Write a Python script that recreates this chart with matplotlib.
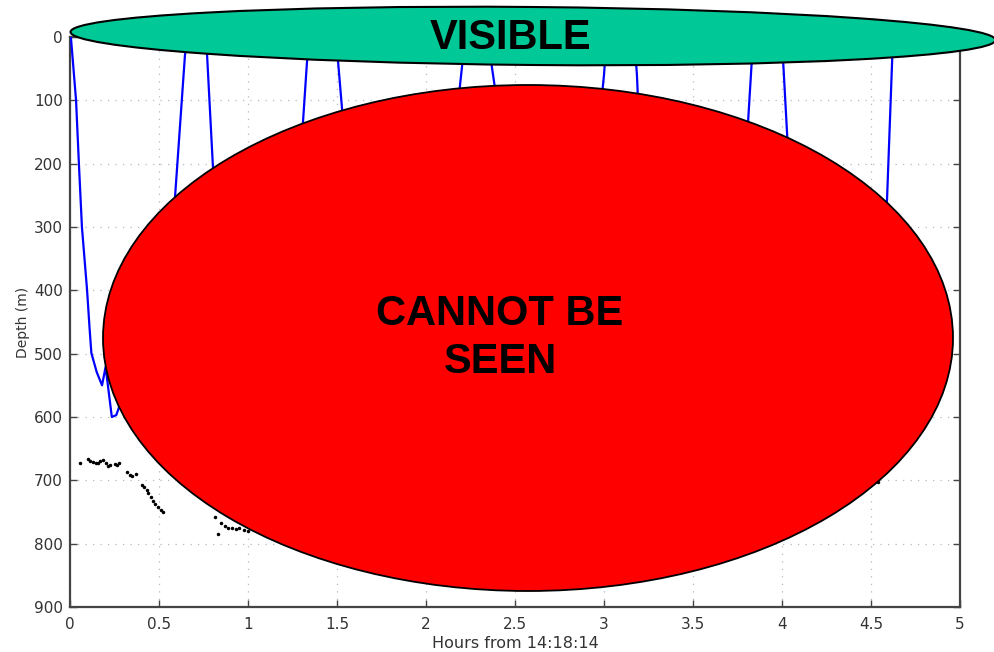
import matplotlib
matplotlib.use("Agg")
import matplotlib.pyplot as plt
from matplotlib.patches import Ellipse
from matplotlib.transforms import Affine2D
from matplotlib.ticker import FuncFormatter

# Dive profile: hours since start vs depth (m)
dive_hours = [0.005, 0.034, 0.05, 0.067, 0.096, 0.11, 0.12, 0.15, 0.18, 0.20, 0.235, 0.26,
              0.30, 0.35, 0.40, 0.45, 0.50, 0.54, 0.59, 0.646, 0.665, 0.75, 0.77, 0.803,
              0.85, 0.90, 0.95, 1.00, 1.05, 1.10, 1.15, 1.20, 1.25, 1.309, 1.331, 1.345,
              1.49, 1.506, 1.528, 1.58, 1.64, 1.70, 1.78, 1.86, 1.94, 2.02, 2.08, 2.14,
              2.19, 2.205, 2.22, 2.355, 2.37, 2.385, 2.45, 2.52, 2.60, 2.68, 2.76, 2.84,
              2.90, 2.95, 2.99, 3.00, 3.015, 3.17, 3.185, 3.19, 3.26, 3.33, 3.42, 3.50,
              3.58, 3.66, 3.72, 3.78, 3.81, 3.83, 3.845, 3.99, 4.006, 4.03, 4.08, 4.14,
              4.22, 4.30, 4.38, 4.46, 4.52, 4.59, 4.62, 4.63, 4.66]
dive_depth = [0, 100, 200, 300, 400, 460, 499, 529, 550, 521, 600, 597,
              565, 600, 615, 635, 590, 450, 253, 28, 0, 0, 28, 205,
              430, 580, 640, 690, 700, 660, 680, 560, 380, 134, 41, 0,
              0, 39, 112, 350, 560, 680, 720, 700, 740, 690, 480, 260,
              79, 40, 0, 0, 47, 76, 330, 590, 720, 760, 730, 700,
              520, 300, 88, 60, 0, 0, 60, 92, 380, 600, 700, 740,
              710, 690, 520, 300, 131, 39, 0, 0, 36, 160, 380, 540,
              610, 590, 620, 560, 420, 257, 28, 0, 0]

# Scattering layer detections
layer_hours = [0.056, 0.10, 0.115, 0.13, 0.145, 0.16, 0.17, 0.185, 0.20, 0.215, 0.225,
               0.255, 0.265, 0.275, 0.32, 0.335, 0.35, 0.37, 0.405, 0.415, 0.43, 0.44,
               0.455, 0.465, 0.48, 0.495, 0.51, 0.525, 0.815, 0.83, 0.85, 0.87, 0.89,
               0.91, 0.93, 0.95, 0.975, 1.0, 1.3, 1.7, 2.2, 2.7, 3.2, 3.7, 4.1, 4.54]
layer_depth = [672, 667, 669, 671, 673, 672, 670, 668, 672, 678, 675,
               674, 676, 672, 687, 691, 693, 690, 707, 711, 716, 720,
               727, 732, 738, 742, 747, 750, 758, 784, 768, 772, 775,
               776, 777, 776, 778, 780, 795, 805, 812, 815, 805, 780, 745, 703]

x_ticks = [0, 0.5, 1, 1.5, 2, 2.5, 3, 3.5, 4, 4.5, 5]
y_ticks = [0, 100, 200, 300, 400, 500, 600, 700, 800, 900]

W, H = 995, 652
plt.rcParams['font.family'] = ['DejaVu Sans']
fig = plt.figure(figsize=(W / 100, H / 100), dpi=100)
ax = fig.add_axes([70 / W, 1 - 607 / H, 890 / W, 570 / H])

ax.plot(dive_hours, dive_depth, color='#0000ff', lw=1.6, zorder=3)
ax.plot(layer_hours, layer_depth, ls='none', marker='.', ms=3, color='black', zorder=3)

ax.set_xlim(0, 5)
ax.set_ylim(900, 0)
ax.set_xticks(x_ticks)
ax.set_yticks(y_ticks)
ax.xaxis.set_major_formatter(FuncFormatter(lambda v, p: f"{v:g}"))
ax.grid(True, color='#b8b8b8', linestyle=(0, (1, 5)), linewidth=0.9)
ax.tick_params(direction='in', length=5, width=1, top=True, right=True,
               labelsize=11, labelcolor='#333333', color='#444444')
ax.tick_params(axis='y', pad=5)
ax.tick_params(axis='x', pad=7)
for sp in ax.spines.values():
    sp.set_color('#444444')
    sp.set_linewidth(1.6)
ax.set_xlabel('Hours from 14:18:14', fontsize=11.5, color='#333333', labelpad=3)
ax.set_ylabel('Depth (m)', fontsize=10, color='#333333', labelpad=3)

# overlay shapes placed in output pixel units (origin bottom-left)
px = Affine2D().scale(1 / W, 1 / H) + fig.transFigure

def py(y):
    return H - y

green = Ellipse((533, py(36)), 925, 58, angle=-0.5, facecolor='#00c896',
                edgecolor='black', lw=1.5, transform=px, zorder=5)
red = Ellipse((528, py(338)), 850, 506, facecolor='#ff0000',
              edgecolor='black', lw=1.3, transform=px, zorder=5)
fig.add_artist(green)
fig.add_artist(red)

label_font = ['Liberation Sans', 'DejaVu Sans']
fig.text(511 / W, 1 - 38 / H, 'VISIBLE', ha='center', va='center', family=label_font,
         fontsize=30, fontweight='bold', color='black', zorder=6)
fig.text(500 / W, 1 - 338 / H, 'CANNOT BE\nSEEN', ha='center', va='center',
         family=label_font, fontsize=30, fontweight='bold', color='black',
         linespacing=1.25, multialignment='center', zorder=6)

fig.savefig('out.png', dpi=100)
